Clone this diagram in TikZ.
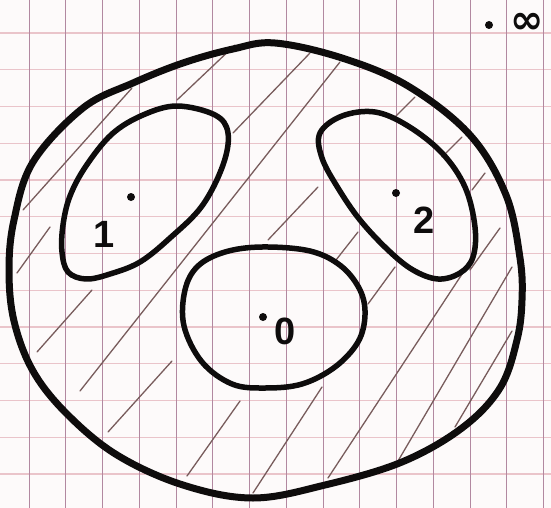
\documentclass[tikz,border=0pt]{standalone}
\usepackage{fontspec}
\newfontfamily\symfont{DejaVu Sans}
\newfontfamily\handfont{Liberation Sans}
\usetikzlibrary{calc}
\definecolor{paper}{RGB}{253,250,250}
\definecolor{gridpink}{RGB}{234,196,202}
\definecolor{gridplum}{RGB}{178,136,160}
\definecolor{pencil}{RGB}{120,92,92}
\definecolor{ink}{RGB}{14,12,12}

\begin{document}
\begin{tikzpicture}[x=1pt, y=-1pt,
rim/.style={draw=ink, line width=7pt, line join=round},
hole/.style={draw=ink, line width=5.5pt, line join=round},
hatchline/.style={draw=pencil, line width=1.3pt, line cap=round},
pt/.style={circle, fill=ink, inner sep=0pt, minimum size=8pt},
lab/.style={text=ink, inner sep=0pt, font=\handfont\bfseries\fontsize{38}{38}\selectfont}
]
\fill[paper] (0,0) rectangle (551,508);
\useasboundingbox (0,0) rectangle (551,508);
% graph paper
\foreach \i in {0,...,12}
  \draw[gridpink, line width=1.3pt] (0,{33+36.75*\i}) -- (551,{33+36.75*\i});
\foreach \i in {0,...,14}
  \draw[gridplum, line width=1pt] ({29+36.75*\i},0) -- ({29+36.75*\i},508);
% hatching
\foreach \xa/\ya/\xb/\yb in {23/210/132/88, 17/273/50/227, 177/100/235/45,
  233/133/310/53, 80/391/340/62, 37/352/92/290, 108/432/172/361,
  187/476/240/401, 253/493/322/387, 328/478/470/262, 398/461/512/267,
  455/427/512/331, 368/304/395/267, 395/117/415/97, 442/157/462/137,
  472/190/485/173, 470/270/500/228, 268/240/318/187, 336/260/358/232}
  \draw[hatchline] (\xa,\ya) -- (\xb,\yb);
% outer boundary
\draw[rim] plot[smooth cycle, tension=0.6] coordinates {(275,43) (342,58) (408,86)
  (470,135) (506,195) (520,258) (522,300) (517,340) (500,388) (462,428) (402,462)
  (325,485) (253,498) (183,485) (117,455) (67,414) (33,371) (14,321) (9,270)
  (14,220) (33,162) (83,108) (133,83) (183,63) (233,49)};
% holes
\draw[hole] plot[smooth cycle, tension=0.6] coordinates {(177,106) (215,115) (228,133)
  (223,165) (202,206) (170,238) (140,262) (110,274) (86,279) (68,272) (62,252)
  (63,225) (70,196) (86,166) (112,134) (143,115)};
\draw[hole] plot[smooth cycle, tension=0.6] coordinates {(320,133) (342,116) (375,112)
  (408,126) (442,153) (465,187) (475,227) (473,257) (460,273) (438,279) (413,270)
  (388,250) (360,220) (338,188) (322,158)};
\draw[hole] plot[smooth cycle, tension=0.6] coordinates {(262,247) (310,251) (341,266)
  (360,290) (365,315) (358,342) (335,367) (302,384) (265,388) (232,384) (202,362)
  (184,326) (185,290) (198,266) (225,252)};
% points and labels
\node[pt] (dot1) at (131,197) {};
\node[lab] (one) at (104,234) {1};
\node[pt] (dot2) at (396,193) {};
\node[lab] (two) at (424,220) {2};
\node[pt] (dot0) at (263,317) {};
\node[lab] (zero) at (285,331) {0};
\node[pt] (dotinf) at (489,25) {};
\node[lab, font=\symfont\bfseries\fontsize{40}{40}\selectfont] (inf) at (527,23) {∞};
\end{tikzpicture}
\end{document}
